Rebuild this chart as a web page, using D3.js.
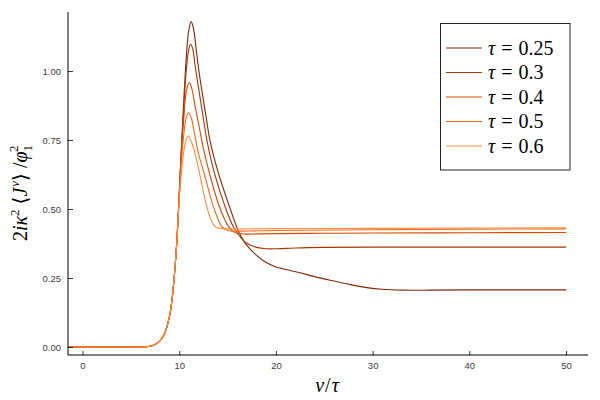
<!DOCTYPE html>
<html>
<head>
<meta charset="utf-8">
<script src="https://cdn.jsdelivr.net/npm/d3@7"></script>
<style>
  html, body { margin: 0; padding: 0; background: #fff; }
  svg { display: block; }
</style>
</head>
<body>
<svg id="chart" width="600" height="400"></svg>
<script>
// ---- data ----
const xTicks = [0, 10, 20, 30, 40, 50];
const yTicks = [0, 0.25, 0.5, 0.75, 1.0];
const taus = ["0.25", "0.3", "0.4", "0.5", "0.6"];
const colors = ["#7f2704", "#a63603", "#d94801", "#f16913", "#fd8d3c"];

const tau025 = [[-1.5,0],[0,0],[2,0],[4,0],[6,0],[6.5,0.001],[7,0.003],[7.5,0.009],[8,0.022],[8.5,0.05],[9,0.112],[9.25,0.17],[9.5,0.26],[9.75,0.38],[10,0.55],[10.25,0.74],[10.5,0.91],[10.75,1.06],[11,1.15],[11.24,1.179],[11.5,1.15],[11.75,1.08],[12,1.01],[12.25,0.95],[12.75,0.84],[13.2,0.745],[14.06,0.629],[15.2,0.508],[16,0.43],[16.4,0.40],[17,0.368],[18,0.332],[19,0.306],[20,0.29],[21,0.281],[22.5,0.269],[24,0.255],[26,0.239],[27.7,0.226],[29.4,0.215],[31,0.209],[33,0.206],[36,0.206],[40,0.207],[45,0.207],[50,0.207]];
const tau03 = [[-1.5,0],[0,0],[2,0],[4,0],[6,0],[6.5,0.001],[7,0.003],[7.5,0.009],[8,0.022],[8.5,0.05],[9,0.112],[9.25,0.17],[9.5,0.26],[9.75,0.38],[10,0.55],[10.25,0.73],[10.5,0.89],[10.75,1.01],[11,1.08],[11.17,1.097],[11.4,1.08],[11.6,1.03],[11.9,0.96],[12.4,0.85],[12.86,0.75],[13.65,0.629],[14.75,0.508],[15.6,0.436],[16.4,0.395],[17,0.376],[18,0.361],[19,0.356],[20,0.356],[22,0.359],[25,0.361],[30,0.362],[40,0.362],[50,0.362]];
const tau04 = [[-1.5,0],[0,0],[2,0],[4,0],[6,0],[6.5,0.001],[7,0.003],[7.5,0.009],[8,0.022],[8.5,0.05],[9,0.112],[9.25,0.17],[9.5,0.26],[9.75,0.38],[10,0.55],[10.25,0.72],[10.5,0.84],[10.75,0.93],[11.06,0.958],[11.35,0.93],[11.65,0.871],[12,0.81],[12.5,0.72],[13.13,0.629],[14.16,0.508],[15.1,0.436],[15.6,0.418],[16,0.412],[17,0.409],[18,0.41],[20,0.411],[25,0.412],[30,0.413],[40,0.414],[50,0.415]];
const tau05 = [[-1.5,0],[0,0],[2,0],[4,0],[6,0],[6.5,0.001],[7,0.003],[7.5,0.009],[8,0.022],[8.5,0.05],[9,0.112],[9.25,0.17],[9.5,0.26],[9.75,0.38],[10,0.54],[10.25,0.68],[10.5,0.78],[10.75,0.835],[10.96,0.849],[11.25,0.83],[11.6,0.77],[12,0.70],[12.58,0.629],[13.54,0.508],[14.41,0.436],[15,0.422],[16,0.42],[18,0.421],[20,0.422],[30,0.425],[40,0.427],[50,0.428]];
const tau06 = [[-1.5,0],[0,0],[2,0],[4,0],[6,0],[6.5,0.001],[7,0.003],[7.5,0.009],[8,0.022],[8.5,0.05],[9,0.112],[9.25,0.17],[9.5,0.26],[9.75,0.38],[10,0.53],[10.25,0.64],[10.5,0.715],[10.75,0.755],[10.93,0.765],[11.3,0.74],[11.72,0.69],[12.1,0.629],[12.86,0.508],[13.3,0.46],[13.72,0.436],[14.2,0.43],[15,0.428],[20,0.429],[30,0.43],[40,0.431],[50,0.432]];
const seriesData = [tau025, tau03, tau04, tau05, tau06];

// ---- layout ----
const svg = d3.select("#chart");
const L = 68, R = 588, T = 12, B = 355;
const x = d3.scaleLinear().domain([-1.5, 52.27]).range([L, R]);
const y = d3.scaleLinear().domain([-0.029, 1.214]).range([B, T]);

svg.append("rect").attr("width", 600).attr("height", 400).attr("fill", "#fff");

svg.append("clipPath").attr("id", "clip")
  .append("rect").attr("x", L).attr("y", T).attr("width", R - L).attr("height", B - T);

const line = d3.line().x(d => x(d[0])).y(d => y(d[1])).curve(d3.curveCatmullRom.alpha(0.5));
const g = svg.append("g").attr("clip-path", "url(#clip)");
seriesData.forEach((s, i) => {
  g.append("path").datum(s)
    .attr("d", line)
    .attr("fill", "none")
    .attr("stroke", colors[i])
    .attr("stroke-width", 1.1);
});

// axes
const xAxis = d3.axisBottom(x).tickValues(xTicks).tickSize(-4).tickPadding(7).tickFormat(d3.format("d"));
const yAxis = d3.axisLeft(y).tickValues(yTicks).tickSize(-5).tickPadding(7).tickFormat(d3.format(".2f"));

const gx = svg.append("g").attr("transform", `translate(0,${B})`).call(xAxis);
const gy = svg.append("g").attr("transform", `translate(${L},0)`).call(yAxis);
[gx, gy].forEach(a => {
  a.select(".domain").remove();
  a.selectAll(".tick line").attr("stroke", "#000").attr("stroke-width", 0.8);
  a.selectAll(".tick text").attr("fill", "#3c3c3c")
    .style("font-family", "'Liberation Sans', Arial, sans-serif").style("font-size", "9.5px");
});
gx.selectAll(".tick text").attr("dy", "0.71em");
svg.append("line").attr("x1", L).attr("x2", L).attr("y1", T).attr("y2", B).attr("stroke", "#000").attr("stroke-width", 1);
svg.append("line").attr("x1", L).attr("x2", R).attr("y1", B).attr("y2", B).attr("stroke", "#000").attr("stroke-width", 1);

const mathFont = "'Liberation Serif', 'DejaVu Serif', serif";

// x label
const xl = svg.append("text").attr("x", 327).attr("y", 392)
  .attr("text-anchor", "middle").style("font-family", mathFont).style("font-size", "20px");
xl.append("tspan").attr("font-style", "italic").text("v");
xl.append("tspan").attr("dx", 1).text("/");
xl.append("tspan").attr("dx", 1).attr("font-style", "italic").text("τ");

// y label
const yl = svg.append("text").attr("transform", "translate(27,193) rotate(-90)")
  .attr("text-anchor", "middle").style("font-family", mathFont).style("font-size", "20px");
yl.append("tspan").text("2");
yl.append("tspan").attr("font-style", "italic").text("iκ");
yl.append("tspan").attr("dy", -8).style("font-size", "13px").text("2");
yl.append("tspan").attr("dy", 8).attr("dx", 5).text("⟨");
yl.append("tspan").attr("font-style", "italic").text("J");
yl.append("tspan").attr("dy", -8).attr("dx", 1).attr("font-style", "italic").style("font-size", "13px").text("v");
yl.append("tspan").attr("dy", 8).text("⟩");
yl.append("tspan").attr("dx", 5).text("/");
yl.append("tspan").attr("font-style", "italic").text("φ");
yl.append("tspan").attr("dy", 5).style("font-size", "13px").text("1");
yl.append("tspan").attr("dy", -14).attr("dx", -7).style("font-size", "13px").text("2");

// legend
const lg = svg.append("g");
lg.append("rect").attr("x", 440.5).attr("y", 23.5).attr("width", 129.5).attr("height", 146.5)
  .attr("fill", "#fff").attr("stroke", "#222").attr("stroke-width", 1);
taus.forEach((t, i) => {
  const yy = 48 + i * 24.5;
  lg.append("line").attr("x1", 446).attr("x2", 482).attr("y1", yy).attr("y2", yy)
    .attr("stroke", colors[i]).attr("stroke-width", 1.1);
  const tx = lg.append("text").attr("x", 488).attr("y", yy + 6.5)
    .style("font-family", mathFont).style("font-size", "20px").attr("fill", "#000");
  tx.append("tspan").attr("font-style", "italic").text("τ");
  tx.append("tspan").attr("dx", 6).text("=");
  tx.append("tspan").attr("dx", 6).text(t);
});
</script>
</body>
</html>
